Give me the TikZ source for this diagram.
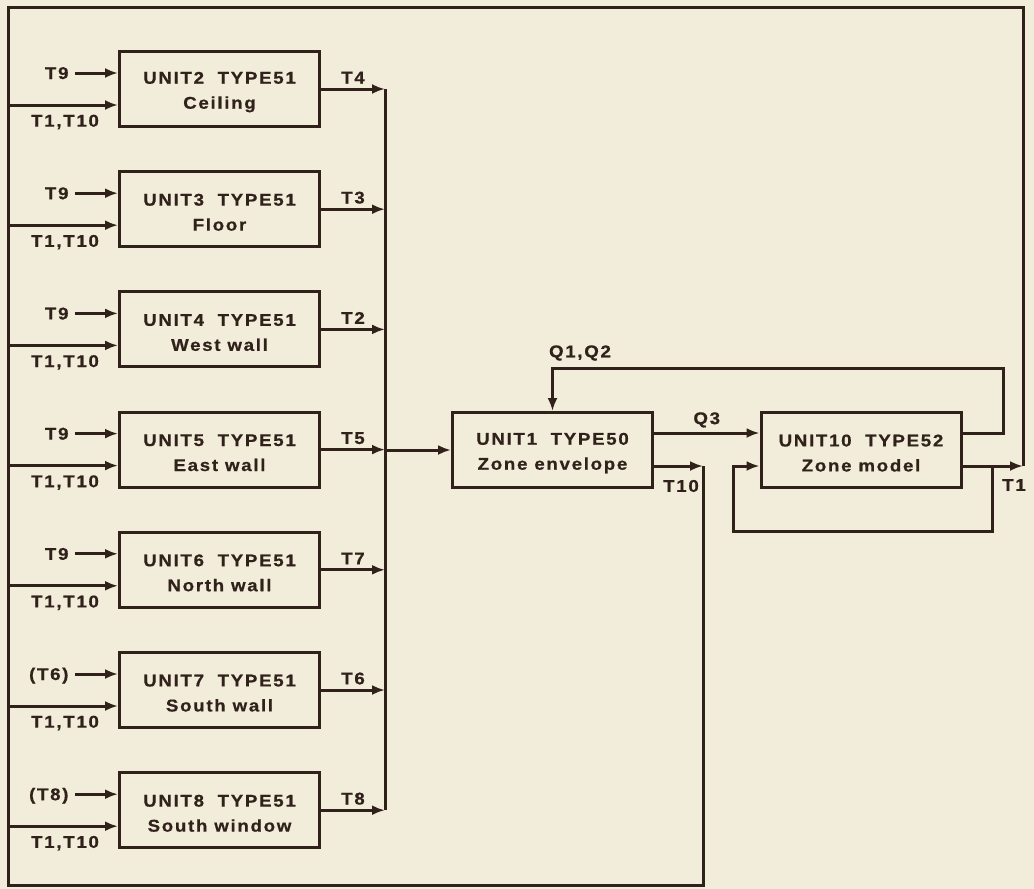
\documentclass[tikz,border=0pt]{standalone}
\usepackage{fontspec}
\setmainfont{Liberation Sans}[FakeStretch=1.1,LetterSpace=10,FakeBold=0.6]
\usepackage{tikz}
\usetikzlibrary{arrows.meta,calc,positioning}
\definecolor{PaperCream}{RGB}{242,236,218}
\definecolor{InkBrown}{RGB}{48,34,26}

\begin{document}
\begin{tikzpicture}[x=1pt,y=-1pt,>={Latex[length=13pt,width=10pt]},
    line width=3pt,InkBrown,
    every node/.style={font=\fontsize{17}{25}\selectfont\bfseries,inner sep=2pt},
    unit/.style={draw,minimum width=200pt,minimum height=75pt,inner sep=0pt,align=center},
    sig/.style={inner xsep=5pt,text height=12pt,text depth=0pt}]
      \fill[PaperCream] (0,0) rectangle (1034,889);
      \useasboundingbox (0,0) rectangle (1034,889);
      \coordinate (bus) at (385,0);
      \foreach \n/\k/\inp/\out/\name in {2/0/T9/T4/Ceiling,3/1/T9/T3/Floor,
          4/2/T9/T2/West wall,5/3/T9/T5/East wall,6/4/T9/T7/North wall,
          7/5/{(T6)}/T6/South wall,8/6/{(T8)}/T8/South window}{
        \node[unit] (u\n) at (219.5,{89+120.2*\k})
          {\rule{0pt}{18pt}UNIT\n\hspace{0.8em}TYPE51\\\name};
        \node[sig,anchor=east] (in\n) at (75,{89+120.2*\k-16}) {\inp};
        \draw[->] (in\n.east) -- (u\n.west |- in\n.east);
        \coordinate (rail\n) at (8,{89+120.2*\k+16});
        \draw[->] (rail\n) -- (u\n.west |- rail\n);
        \node (fb\n) at (65,{89+120.2*\k+33}) {T1,T10};
        \draw[->] (u\n.east) -- (u\n.east -| bus)
          node[midway,above=2pt] (out\n) {\out};
      }
      \draw (bus |- u2.east) -- (bus |- u8.east);
      \node[unit] (u1) at (552.5,450)
        {\rule{0pt}{18pt}UNIT1\hspace{0.8em}TYPE50\\Zone envelope};
      \node[unit] (u10) at (861,450)
        {\rule{0pt}{18pt}UNIT10\hspace{0.8em}TYPE52\\Zone model};
      \draw[->] (bus |- u1.west) -- (u1.west);
      \draw[->] ([yshift=17pt]u1.east) -- ([yshift=17pt]u10.west)
        node[midway,above=2pt] (q3) {Q3};
      \draw[->] ([yshift=17pt]u10.east) -| (1003,368) -| (u1.north);
      \node (q12) at (580,353) {Q1,Q2};
      \coordinate (j10) at (703,466);
      \coordinate (j1) at (1023,466);
      \draw[->] ([yshift=-16pt]u1.east) -- (j10);
      \node (t10) at (681,486) {T10};
      \draw[->] ([yshift=-16pt]u10.east) -- (j1);
      \node (t1) at (1014,485) {T1};
      \draw (j10) -- (703,885) -- (8,885) -- (8,7) -- (1023,7) -- (j1);
      \draw[->] (992,466) |- (733,531) |- ([yshift=-16pt]u10.west);
    \end{tikzpicture}
\end{document}
